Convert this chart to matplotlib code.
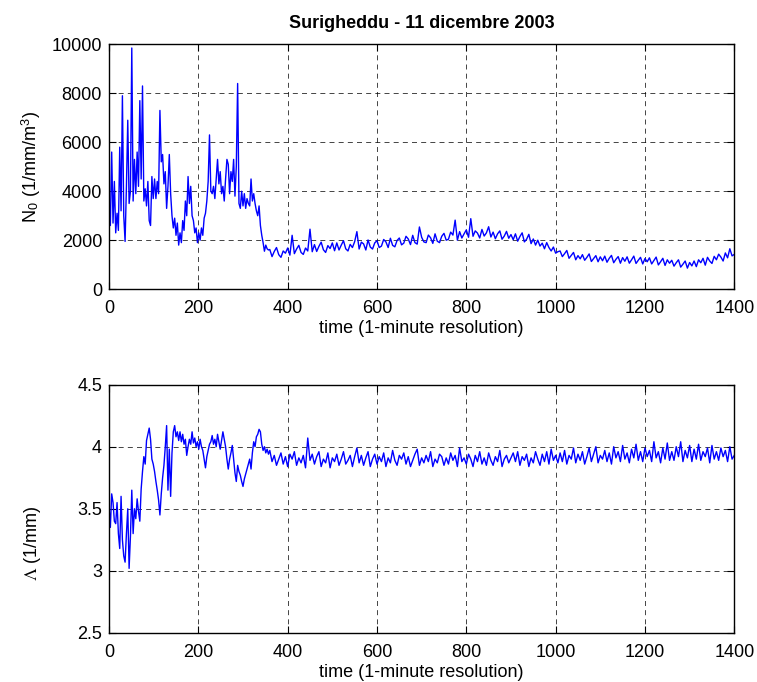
import numpy as np
import matplotlib
matplotlib.use("Agg")
import matplotlib.pyplot as plt

plt.rcParams['font.family'] = ['Liberation Sans', 'DejaVu Sans']
plt.rcParams['mathtext.fontset'] = 'stix'
plt.rcParams['font.size'] = 13

# --- data read off the reference (1-minute series, sampled coarser) ---
# early part every 3 minutes, then every 5 minutes
t_early = np.arange(0, 360, 3)
t_late = np.arange(360, 1401, 5)

n0_early = [
    3700, 2600, 5600, 2700, 4400, 2300, 3100, 2400, 5800, 3200,
    7900, 3000, 1950, 4200, 6900, 3500, 4000, 9850, 3600, 5300,
    3900, 5600, 4200, 7700, 4500, 8300, 3600, 4100, 3400, 4400,
    2800, 2600, 4600, 3700, 4500, 3700, 4400, 3900, 7300, 5200,
    5500, 4300, 4800, 3300, 4200, 5500, 3900, 3000, 2500, 2900,
    2200, 2700, 1800, 2300, 1900, 2800, 2400, 3600, 3000, 4600,
    3500, 4200, 3000, 2800, 2300, 2500, 1900, 2300, 2000, 2500,
    2200, 2900, 3100, 3600, 4400, 6300, 4000, 3900, 4200, 3700,
    4500, 5300, 4300, 4800, 3900, 4200, 3600, 4500, 5300, 5100,
    3900, 4800, 4400, 5300, 3800, 5000, 8400, 3500, 3300, 4000,
    3400, 3900, 3300, 3700, 3500, 3400, 4500, 3600, 3900, 3500,
    3200, 3000, 3400, 2600, 2200, 1900, 1550, 1800, 1650, 1600,
]
n0_late = [
    1620, 1330, 1540, 1700, 1410, 1300, 1560, 1470, 1680, 1390,
    2200, 1450, 1640, 1790, 1500, 1420, 1680, 1560, 2450, 1530,
    1820, 1540, 1750, 1920, 1610, 1500, 1780, 1660, 1890, 1570,
    1890, 1600, 1800, 1980, 1650, 1560, 1830, 1700, 1940, 2350,
    1640, 1920, 1850, 1600, 2010, 1720, 1640, 1890, 1980, 1700,
    1760, 2030, 1930, 1700, 2080, 1790, 1730, 1990, 2090, 1810,
    1880, 2160, 2050, 1820, 2200, 1900, 1840, 2540, 2120, 1930,
    1900, 2210, 2100, 1870, 2260, 1960, 1900, 2160, 2280, 2000,
    2040, 2330, 2210, 2820, 2000, 2350, 2090, 2260, 2420, 2120,
    2880, 2160, 2380, 2290, 2090, 2440, 2170, 2300, 2550, 2130,
    2330, 2060, 2260, 2380, 2040, 2170, 2360, 2080, 2230, 2020,
    2260, 1960, 2150, 2300, 1930, 2040, 2240, 1860, 2050, 1800,
    2000, 1760, 1880, 1650, 1900, 1700, 1560, 1720, 1470, 1530,
    1560, 1330, 1450, 1580, 1260, 1380, 1500, 1200, 1370, 1240,
    1410, 1180, 1300, 1440, 1130, 1250, 1370, 1120, 1320, 1160,
    1350, 1100, 1260, 1380, 1080, 1220, 1330, 1060, 1290, 1140,
    1320, 1060, 1200, 1350, 1050, 1180, 1300, 1030, 1250, 1120,
    1280, 1030, 1170, 1310, 990, 1120, 1260, 970, 1200, 1060,
    1180, 940, 1080, 1200, 900, 1020, 1150, 860, 1090, 950,
    1150, 920, 1200, 1080, 1260, 980, 1300, 1150, 1050, 1340,
    1200, 1430, 1310, 1150, 1480, 1280, 1650, 1360, 1420,
]

lam_early = [
    3.52, 3.35, 3.62, 3.55, 3.40, 3.38, 3.55, 3.30, 3.18, 3.60,
    3.25, 3.12, 3.07, 3.30, 3.50, 3.02, 3.28, 3.65, 3.30, 3.50,
    3.42, 3.58, 3.48, 3.40, 3.66, 3.80, 3.92, 3.86, 4.05, 4.10,
    4.15, 4.06, 3.90, 3.86, 3.80, 3.72, 3.65, 3.57, 3.45, 3.62,
    3.75, 3.85, 4.00, 4.17, 3.65, 3.98, 3.60, 3.95, 4.12, 4.17,
    4.08, 4.12, 4.05, 4.12, 4.04, 4.10, 4.02, 4.06, 3.93, 4.00,
    4.06, 4.02, 4.12, 4.03, 4.07, 4.00, 4.04, 3.98, 4.06, 4.00,
    3.97, 3.90, 3.83, 3.92, 3.97, 4.02, 4.04, 4.09, 4.02, 4.06,
    4.00, 4.10, 4.04, 3.98, 4.05, 4.12, 4.06, 4.00, 3.90, 3.82,
    3.90, 3.95, 4.01, 3.90, 3.79, 3.72, 3.85, 3.80, 3.77, 3.72,
    3.68, 3.74, 3.78, 3.82, 3.86, 3.90, 3.82, 3.95, 4.04, 4.00,
    4.08, 4.10, 4.14, 4.12, 4.02, 3.97, 4.00, 3.95, 3.98, 3.94,
]
lam_late = [
    3.97, 3.88, 3.93, 3.85, 3.90, 3.95, 3.86, 3.92, 3.84, 3.94,
    3.90, 3.96, 3.85, 3.91, 3.87, 3.93, 3.83, 4.07, 3.89, 3.94,
    3.86, 3.92, 3.96, 3.84, 3.90, 3.87, 3.95, 3.83, 3.91, 3.88,
    3.94, 3.85, 3.90, 3.96, 3.86, 3.89, 3.93, 3.84, 3.92, 3.99,
    3.87, 3.93, 3.85, 3.91, 3.96, 3.84, 3.90, 3.94, 3.86, 3.92,
    3.88, 3.95, 3.84, 3.91, 3.87, 3.97, 3.89, 3.85, 3.93, 3.90,
    3.95, 3.86, 3.92, 3.84, 3.89, 3.94, 3.98, 3.85, 3.91, 3.87,
    3.93, 3.88, 3.96, 3.84, 3.90, 3.87, 3.94, 3.92, 3.85, 3.91,
    3.86, 3.95, 3.89, 3.93, 3.84, 3.99, 3.88, 3.91, 3.86, 3.94,
    3.90, 3.84, 3.93, 3.88, 3.96, 3.86, 3.91, 3.85, 3.95, 3.89,
    3.85, 3.92, 3.88, 3.97, 3.84, 3.90, 3.93, 3.87, 3.91, 3.95,
    3.88, 3.96, 3.85, 3.92, 3.89, 3.94, 3.84, 3.91, 3.87, 3.96,
    3.90, 3.85, 3.94, 3.88, 3.96, 3.86, 3.98, 3.89, 3.93, 3.87,
    3.95, 3.88, 3.97, 3.86, 3.93, 3.90, 3.99, 3.87, 3.94, 3.89,
    3.96, 3.86, 3.92, 3.99, 3.88, 3.94, 4.00, 3.87, 3.93, 3.90,
    3.97, 3.88, 3.95, 3.86, 4.00, 3.91, 3.96, 3.88, 4.01, 3.90,
    3.95, 3.87, 3.98, 3.91, 4.02, 3.89, 3.96, 3.88, 3.99, 3.92,
    3.97, 3.88, 4.04, 3.91, 3.96, 3.87, 3.99, 3.90, 4.03, 3.89,
    3.96, 3.89, 4.00, 3.92, 4.04, 3.88, 3.97, 3.91, 4.01, 3.88,
    3.98, 3.90, 4.02, 3.89, 3.96, 3.92, 3.99, 3.87, 4.01, 3.90,
    3.96, 3.89, 3.99, 3.92, 3.97, 3.88, 4.00, 3.90, 3.93,
]

time = np.concatenate([t_early, t_late])
n0 = np.array(n0_early + n0_late)
lam = np.array(lam_early + lam_late)

xticks = [0, 200, 400, 600, 800, 1000, 1200, 1400]

fig = plt.figure(figsize=(7.57, 6.82), dpi=100)
ax1 = fig.add_axes([0.144, 0.576, 0.826, 0.359])
ax2 = fig.add_axes([0.144, 0.072, 0.826, 0.364])


def style_axis(ax, ylim, yticks, yticklabels):
    ax.set_xlim(0, 1400)
    ax.set_ylim(*ylim)
    ax.set_xticks(xticks)
    ax.set_yticks(yticks)
    ax.set_yticklabels(yticklabels)
    ax.grid(True, color='black', linestyle=(0, (6, 5)), linewidth=0.6, alpha=0.85)
    ax.tick_params(direction='in', top=True, right=True, length=5, width=0.8,
                   labelsize=13, pad=5)
    ax.tick_params(axis='x', pad=8)
    for s in ax.spines.values():
        s.set_linewidth(1.0)
    ax.set_xlabel('time (1-minute resolution)', fontsize=13, labelpad=2)


ax1.plot(time, n0, color='#0000FF', linewidth=1.0)
style_axis(ax1, (0, 10000), [0, 2000, 4000, 6000, 8000, 10000],
           ['0', '2000', '4000', '6000', '8000', '10000'])
ax1.set_ylabel(r'N$_\mathregular{0}$ (1/mm/m$^\mathregular{3}$)', fontsize=13)
ax1.yaxis.set_label_coords(-0.106, 0.5)
ax1.set_title('Surigheddu - 11 dicembre 2003', fontsize=13, fontweight='bold', pad=12)

ax2.plot(time, lam, color='#0000FF', linewidth=1.0)
style_axis(ax2, (2.5, 4.5), [2.5, 3, 3.5, 4, 4.5], ['2.5', '3', '3.5', '4', '4.5'])
ax2.set_ylabel(r'$\Lambda$ (1/mm)', fontsize=13)
ax2.yaxis.set_label_coords(-0.106, 0.36)

fig.savefig('out.png', dpi=100)
